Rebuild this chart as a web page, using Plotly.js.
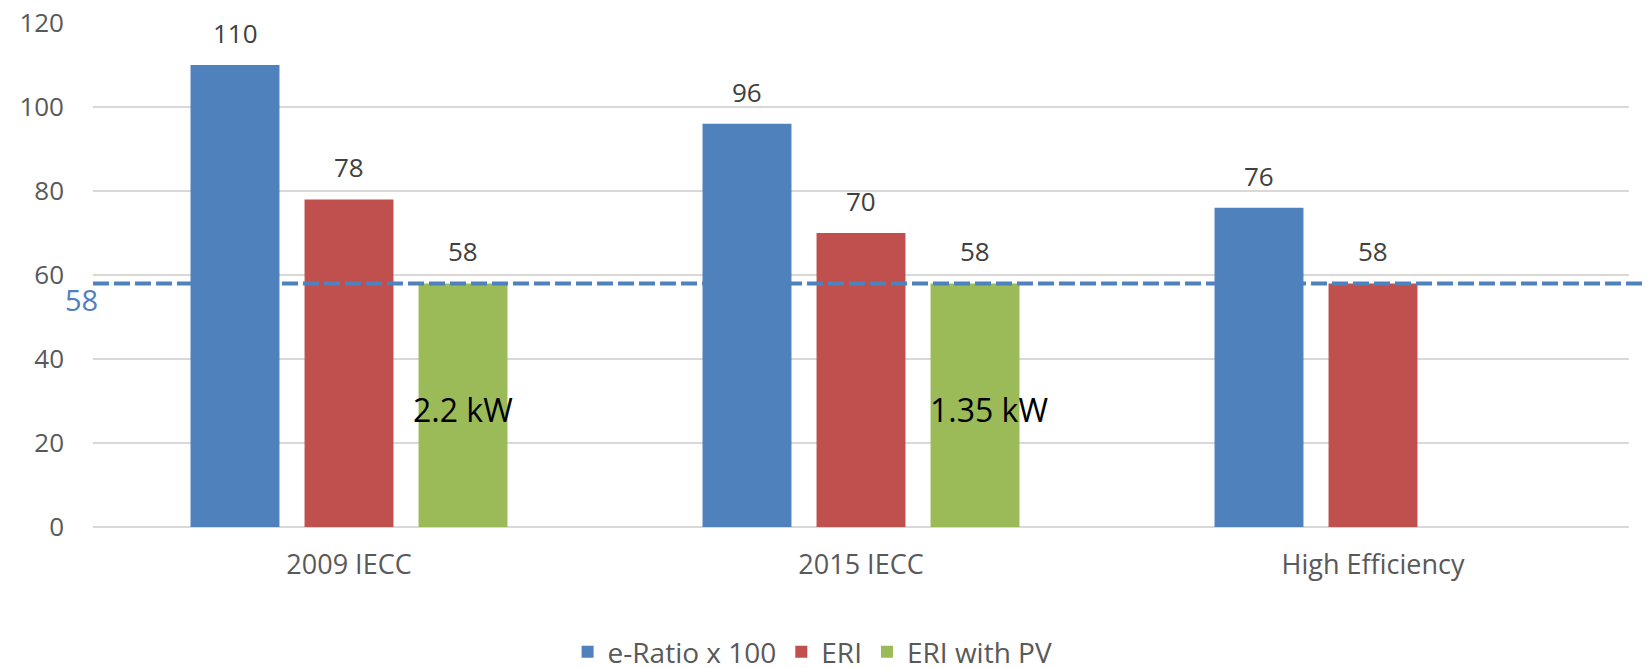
<!DOCTYPE html>
<html>
<head>
<meta charset="utf-8">
<script src="https://cdn.plot.ly/plotly-3.0.1.min.js"></script>
<style>html,body{margin:0;padding:0;background:#fff;}#chart{width:1650px;height:668px;}</style>
</head>
<body>
<div id="chart"></div>
<script>
const categories = ['2009 IECC', '2015 IECC', 'High Efficiency'];
const seriesNames = ['e-Ratio x 100', 'ERI', 'ERI with PV'];
const eRatio = [110, 96, 76];
const eri = [78, 70, 58];
const eriPV = [58, 58, null];
const pvLabels = ['2.2 kW', '1.35 kW', null];
const threshold = 58;
const yTicks = [0, 20, 40, 60, 80, 100, 120];

const colors = ['#4f81bd', '#c0504d', '#9bbb59'];
const allSeries = [eRatio, eri, eriPV];

const FONT = '"Open Sans", "Noto Sans", sans-serif';

const traces = allSeries.map((vals, i) => ({
  type: 'bar',
  name: seriesNames[i],
  x: categories,
  y: vals,
  marker: {color: colors[i], line: {width: 0}},
  hoverinfo: 'none'
}));

const slotPx = 114;
const annotations = [];
allSeries.forEach((vals, s) => {
  vals.forEach((v, c) => {
    if (v === null || v === undefined) return;
    annotations.push({
      x: categories[c], y: v, xref: 'x', yref: 'y',
      text: String(v), showarrow: false,
      xshift: (s - 1) * slotPx, yshift: 12, yanchor: 'bottom',
      font: {family: FONT, size: 26, color: '#404040'}
    });
  });
});
const pvExtra = [0, 14, 0];
pvLabels.forEach((t, c) => {
  if (!t) return;
  annotations.push({
    x: categories[c], y: eriPV[c] / 2, xref: 'x', yref: 'y',
    text: t, showarrow: false,
    xshift: slotPx + pvExtra[c], yshift: -4, yanchor: 'middle',
    font: {family: FONT, size: 32, color: '#000000'}
  });
});
annotations.push({
  x: -0.0072, xref: 'paper', y: threshold, yref: 'y',
  text: String(threshold), showarrow: false, yshift: -16,
  xanchor: 'center', yanchor: 'middle',
  font: {family: FONT, size: 29, color: '#4f81bd'}
});

const layout = {
  width: 1650, height: 668,
  margin: {l: 93, r: 21, t: 23, b: 141},
  paper_bgcolor: '#ffffff', plot_bgcolor: '#ffffff',
  barmode: 'group', bargap: 0.332, bargroupgap: 0.22,
  font: {family: FONT, color: '#595959'},
  xaxis: {
    type: 'category', showgrid: false, showline: false, zeroline: false,
    ticks: '', ticklabelstandoff: 19,
    tickfont: {family: FONT, size: 27, color: '#595959'}
  },
  yaxis: {
    range: [0, 120], tickvals: yTicks, ticktext: yTicks.map(String),
    showgrid: true, gridcolor: '#d9d9d9', gridwidth: 1.5,
    zeroline: true, zerolinecolor: '#d9d9d9', zerolinewidth: 1.5,
    showline: false, ticks: '', ticklabelstandoff: 28,
    tickfont: {family: FONT, size: 26, color: '#595959'}
  },
  showlegend: true,
  legend: {
    orientation: 'h', xref: 'container', yref: 'container',
    x: 0.344, xanchor: 'left', y: 0.024, yanchor: 'middle',
    font: {family: FONT, size: 28, color: '#595959'},
    traceorder: 'normal'
  },
  shapes: [{
    type: 'line', xref: 'paper', yref: 'y',
    x0: 0, x1: 1.0104, y0: threshold, y1: threshold,
    line: {color: '#4f81bd', width: 4, dash: '16px,5px'},
    layer: 'above'
  }],
  annotations: annotations
};

Plotly.newPlot('chart', traces, layout, {displayModeBar: false, staticPlot: true});
</script>
</body>
</html>
